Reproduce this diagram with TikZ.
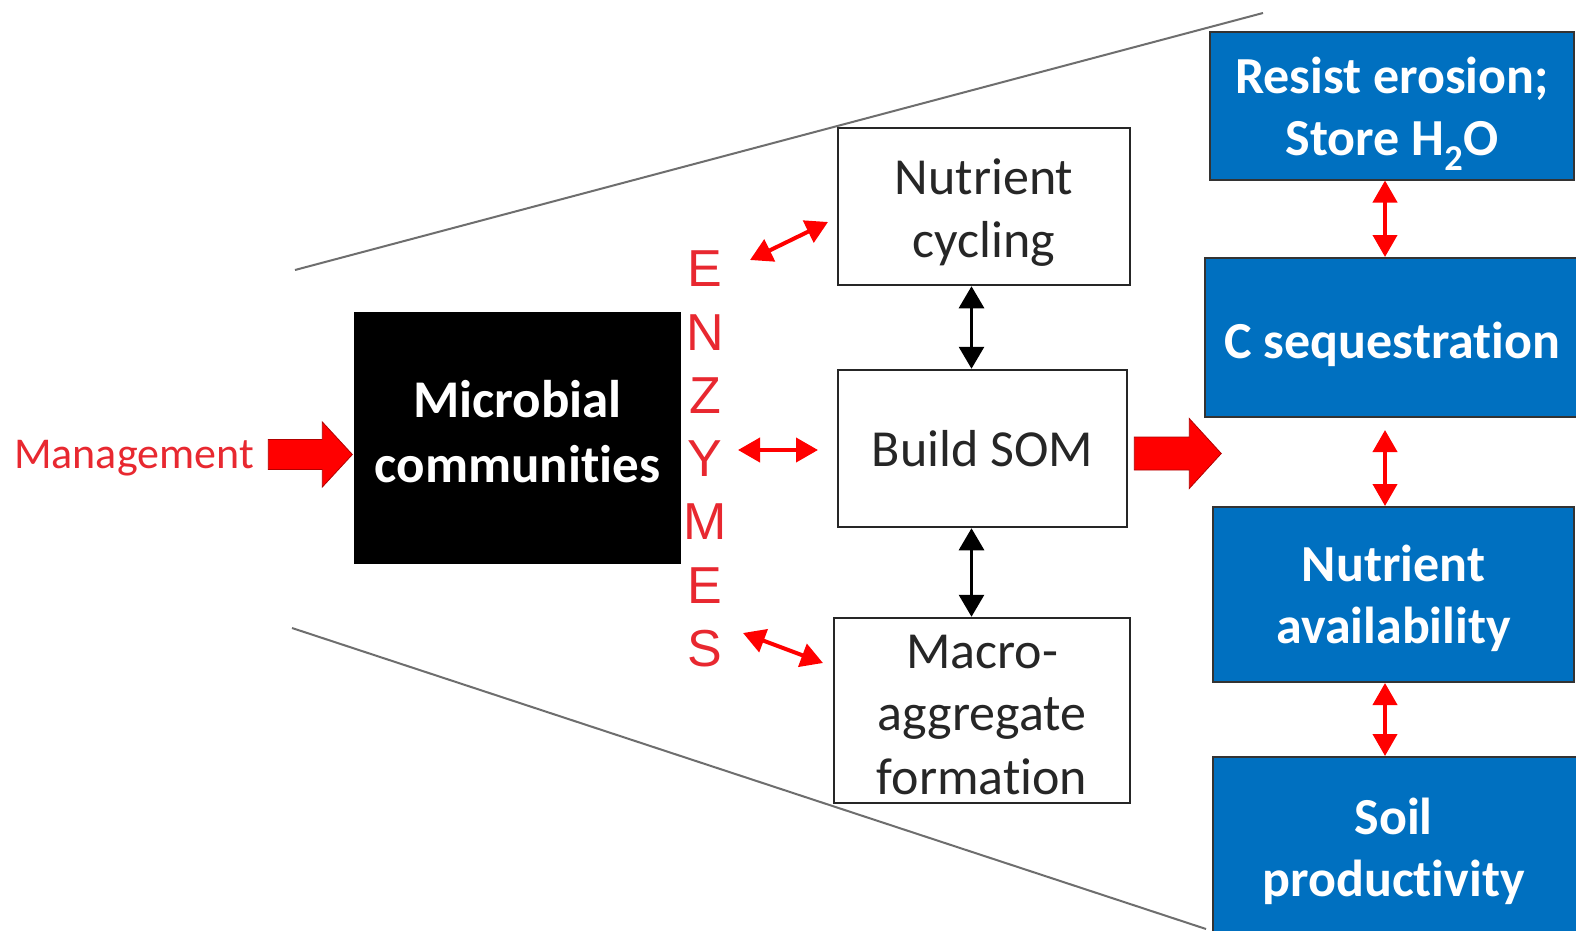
\documentclass[tikz,border=0pt]{standalone}
\usepackage{fontspec}
\setmainfont{Carlito}[Ligatures=CommonOff]
\newfontfamily\arialfont{Liberation Sans}
\usetikzlibrary{arrows.meta,calc}
\definecolor{boxblue}{RGB}{0,112,192}
\definecolor{arrowred}{RGB}{255,0,0}
\definecolor{textred}{RGB}{232,40,48}
\definecolor{rimgray}{RGB}{110,110,110}
\tikzset{
  pics/blockarrow/.style n args={4}{code={
    % tail at the origin, pointing to +x: shaft length, shaft half-thickness, head length, head half-width
    \fill[arrowred, draw=arrowred!70!black, line width=0.8pt]
      (0,-#2) -- (#1,-#2) -- (#1,-#4) -- (#1+#3,0) -- (#1,#4) -- (#1,#2) -- (0,#2) -- cycle;
  }}
}
\begin{document}
\begin{tikzpicture}[x=1pt,y=-1pt,
  whitebox/.style={draw=black!85, line width=2.5pt, fill=white, inner sep=0pt},
  whitetext/.style={inner sep=0pt, align=center, font=\fontsize{52}{63}\selectfont, text=black!85},
  bluebox/.style={draw=black!80, line width=2pt, fill=boxblue, inner sep=0pt},
  bluetext/.style={inner sep=0pt, align=center, text=white, font=\bfseries\fontsize{52}{62}\selectfont},
  blackbox/.style={fill=black, draw=black, inner sep=0pt},
  blacktext/.style={inner sep=0pt, align=center, text=white, font=\bfseries\fontsize{53}{65}\selectfont},
  redlink/.style={draw=arrowred, line width=4pt,
    {Triangle[length=22pt,width=24pt]}-{Triangle[length=22pt,width=24pt]}},
  blacklink/.style={draw=black, line width=3pt,
    {Triangle[length=22pt,width=25pt]}-{Triangle[length=22pt,width=25pt]}},
  rim/.style={draw=rimgray, line width=2pt}
]
\useasboundingbox (0,0) rectangle (1576,931);
\clip (0,0) rectangle (1576,931);
\fill[white] (0,0) rectangle (1576,931);

% widening outline of the close-up view
\coordinate (rimA) at (295,270);
\coordinate (rimB) at (1263,13);
\coordinate (rimC) at (292,628);
\coordinate (rimD) at (1206,929);
\draw[rim] (rimA) -- (rimB);
\draw[rim] (rimC) -- (rimD);

% left part
\node[anchor=base, text=textred, font=\fontsize{44}{54}\selectfont] (mgmt) at (134,468) {Management};
\node[blackbox, minimum width=326pt, minimum height=251pt] (micro) at (517.5,437.5) {};
\node[blacktext] (microT) at ([yshift=6pt]micro.center) {Microbial\\communities};
\node[text=textred, align=center, inner sep=0pt, font=\arialfont\fontsize{52}{63.3}\selectfont] (enz) at (705,459) {E\\N\\Z\\Y\\M\\E\\S};

% middle column
\node[whitebox, minimum width=292pt, minimum height=157pt] (nutc) at (984,206.5) {};
\node[whitetext] (nutcT) at ([yshift=-6pt]nutc.center) {Nutrient\\cycling};
\node[whitebox, minimum width=289pt, minimum height=157pt] (som) at (982.5,448.5) {};
\node[whitetext] (somT) at (som.center) {Build SOM};
\node[whitebox, minimum width=296pt, minimum height=185pt] (macro) at (982,710.5) {};
\node[whitetext] (macroT) at ([yshift=-4pt]macro.center) {Macro-\\aggregate\\formation};

% right column
\node[bluebox, minimum width=364pt, minimum height=147pt] (resist) at (1392,106) {};
\node[bluetext] (resistT) at ([yshift=-8pt]resist.center) {Resist erosion;\\Store H\textsubscript{2}O};
\node[bluebox, minimum width=375pt, minimum height=159pt] (cseq) at (1392.5,337.5) {};
\node[bluetext] (cseqT) at ([yshift=-7pt]cseq.center) {C sequestration};
\node[bluebox, minimum width=361pt, minimum height=175pt] (avail) at (1393.5,594.5) {};
\node[bluetext] (availT) at ([yshift=-4pt]avail.center) {Nutrient\\availability};
\node[bluebox, minimum width=367pt, minimum height=182pt] (soil) at (1396.5,848) {};
\node[bluetext] (soilT) at ([xshift=-3pt,yshift=-3pt]soil.center) {Soil\\productivity};

% block arrows
\pic (mgmtarrow) at ($(mgmt.east |- micro.west)+(11,17)$) {blockarrow={54}{15}{30}{32.5}};
\pic (somarrow) at ($(som.east)+(6,5)$) {blockarrow={55}{16.5}{32}{35}};

% enzyme links
\coordinate (eTop) at (750,260);
\coordinate (nTop) at (828,222);
\coordinate (eMid) at (738,450);
\coordinate (nMid) at (818,450);
\coordinate (eBot) at (743,633);
\coordinate (nBot) at (823,663);
\draw[redlink] (eTop) -- (nTop);
\draw[redlink] (eMid) -- (nMid);
\draw[redlink] (eBot) -- (nBot);

% links between the middle boxes
\draw[blacklink] ([xshift=-11pt]som.north |- nutc.south) -- ([xshift=-11pt]som.north);
\draw[blacklink] ([xshift=-11pt]som.south) -- ([xshift=-11pt]som.south |- macro.north);

% links between the outcome boxes
\coordinate (cseqLow) at (1385,430);
\draw[redlink] ([xshift=-7pt]resist.south) -- ([xshift=-7pt]resist.south |- cseq.north);
\draw[redlink] (cseqLow) -- (cseqLow |- avail.north);
\draw[redlink] ([xshift=-8.5pt]avail.south) -- ([xshift=-8.5pt]avail.south |- soil.north);
\end{tikzpicture}
\end{document}
